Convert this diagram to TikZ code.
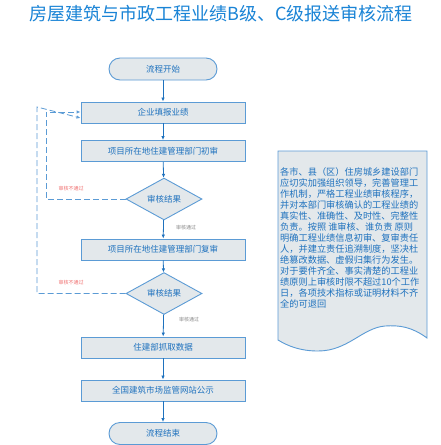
\documentclass[tikz,border=0pt]{standalone}
\usepackage{fontspec}
\setmainfont{Noto Sans CJK SC}
\newfontfamily\cjk{Noto Sans CJK SC}
\usetikzlibrary{shapes.geometric,arrows.meta}
\definecolor{bord}{HTML}{5B9BD5}
\definecolor{boxfill}{HTML}{E3E8EB}
\definecolor{txt}{HTML}{1F72BE}
\definecolor{titlec}{HTML}{1A84D6}
\definecolor{redl}{HTML}{F07070}
\definecolor{grayl}{HTML}{8A8A8A}
\tikzset{
  procbox/.style={draw=bord, fill=boxfill, line width=0.9pt, minimum width=164pt, minimum height=21pt, inner sep=0pt, font=\cjk\fontsize{8.5}{9}\selectfont, text=txt},
  termbox/.style={draw=bord, fill=boxfill, line width=0.9pt, rounded corners=11pt, minimum width=108pt, minimum height=22pt, inner sep=0pt, font=\cjk\fontsize{8.5}{9}\selectfont, text=txt},
  decbox/.style={draw=bord, fill=boxfill, line width=0.9pt, diamond, minimum width=76pt, minimum height=36pt, inner sep=0pt, font=\cjk\fontsize{8.5}{9}\selectfont, text=txt},
  flow/.style={draw=txt, line width=0.8pt, -{Latex[length=4pt,width=3.5pt]}},
  back/.style={draw=bord, line width=0.8pt, dash pattern=on 6pt off 3pt, -{Latex[length=4pt,width=3.5pt,open]}},
  nolbl/.style={font=\cjk\fontsize{5}{5}\selectfont, text=redl, inner sep=0pt},
  oklbl/.style={font=\cjk\fontsize{5}{5}\selectfont, text=grayl, inner sep=0pt},
  noteline/.style={anchor=west, inner sep=0pt, font=\cjk\fontsize{9.2}{10}\selectfont, text=txt}
}
\begin{document}
\begin{tikzpicture}[x=1pt,y=-1pt]
\useasboundingbox (0,0) rectangle (441,445);
\fill[white] (0,0) rectangle (441,445);
\node[font=\cjk\fontsize{18}{18}\selectfont, text=titlec, inner sep=0pt] (title) at (221,14) {房屋建筑与市政工程业绩B级、C级报送审核流程};

\node[termbox] (start) at (163,69) {流程开始};
\node[procbox] (b1) at (163,112.5) {企业填报业绩};
\node[procbox] (b2) at (163,151) {项目所在地住建管理部门初审};
\node[decbox] (d1) at (164,199) {审核结果};
\node[procbox] (b3) at (163,249.5) {项目所在地住建管理部门复审};
\node[decbox] (d2) at (164,293.5) {审核结果};
\node[procbox] (b4) at (163,347.5) {住建部抓取数据};
\node[procbox] (b5) at (163,390.5) {全国建筑市场监管网站公示};
\node[termbox] (end) at (163,433.5) {流程结束};

\draw[flow] (start) -- (b1);
\draw[flow] (b1) -- (b2);
\draw[flow] (b2) -- (d1);
\draw[flow] (d1) -- (b3);
\draw[flow] (b3) -- (d2);
\draw[flow] (d2) -- (b4);
\draw[flow] (b4) -- (b5);
\draw[flow] (b5) -- (end);

\coordinate (in1) at ([yshift=0.5pt]b1.west);
\coordinate (in2) at ([yshift=-5.5pt]b1.west);
\draw[back] (d1.west) -| (46,112) -- (in1);
\draw[back] (d2.west) -| (37,107) -- (in2);

\node[nolbl] (n1) at (71,189) {审核不通过};
\node[nolbl] (n2) at (71,283) {审核不通过};
\node[oklbl] (p1) at (186,228) {审核通过};
\node[oklbl] (p2) at (189,320) {审核通过};

\draw[draw=bord, fill=boxfill, line width=0.9pt]
  (278,151) -- (427,151) -- (427,338)
  .. controls (412,327) and (400,325) .. (385,326)
  .. controls (362,328) and (348,351) .. (318,351)
  .. controls (300,351) and (288,346) .. (278,340) -- cycle;
\foreach \i/\t in {0/各市、县（区）住房城乡建设部门,
  1/应切实加强组织领导，完善管理工,
  2/作机制，严格工程业绩审核程序，,
  3/并对本部门审核确认的工程业绩的,
  4/真实性、准确性、及时性、完整性,
  5/负责。按照 谁审核、谁负责 原则,
  6/明确工程业绩信息初审、复审责任,
  7/人，并建立责任追溯制度，坚决杜,
  8/绝篡改数据、虚假归集行为发生。,
  9/对于要件齐全、事实清楚的工程业,
  10/绩原则上审核时限不超过10个工作,
  11/日，各项技术指标或证明材料不齐,
  12/全的可退回}
  \node[noteline] (l\i) at (280,172+11*\i) {\t};
\end{tikzpicture}
\end{document}
